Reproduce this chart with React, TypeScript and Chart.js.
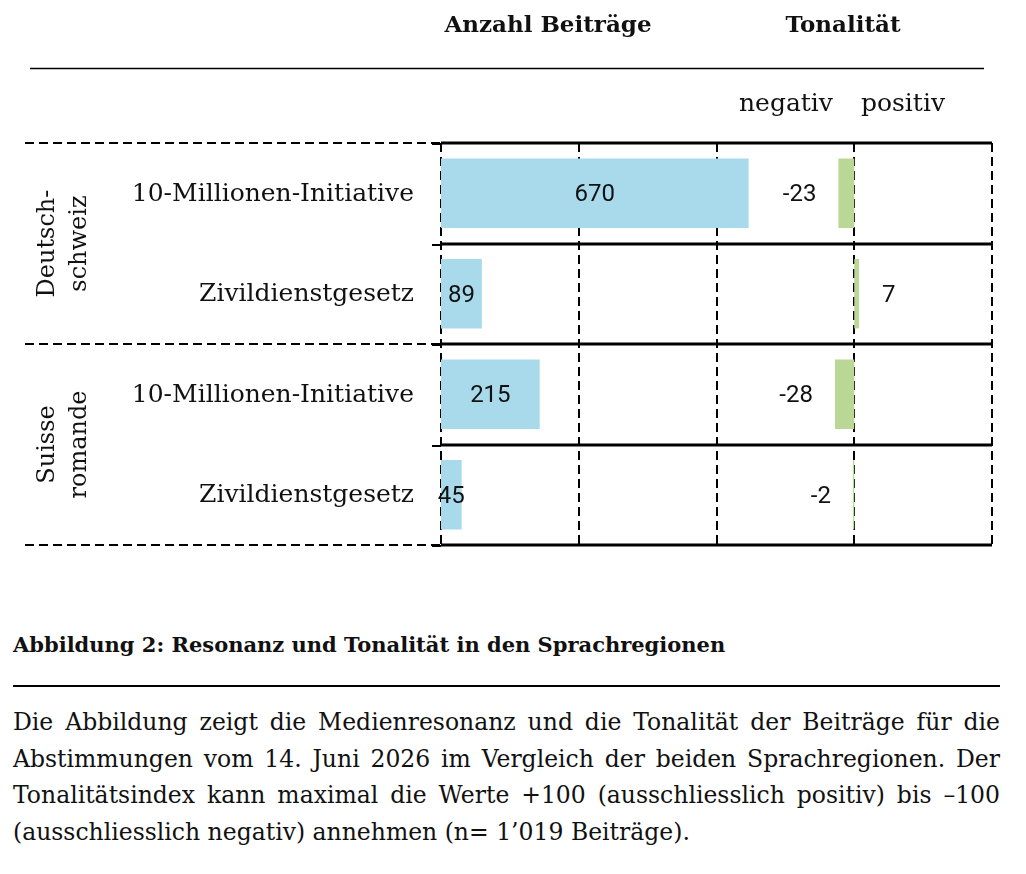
import React, { useEffect, useRef } from 'react';
import { Chart, registerables } from 'chart.js';

Chart.register(...registerables);

const categories = ['10-Millionen-Initiative', 'Zivildienstgesetz', '10-Millionen-Initiative', 'Zivildienstgesetz'];
const regionLabels = [['Deutsch-', 'schweiz'], ['Suisse', 'romande']];
const countValues = [670, 89, 215, 45];
const toneValues = [-23, 7, -28, -2];
const countTicks = [0, 300, 600, 900, 1200];
const headerLabels = ['Anzahl Beiträge', 'Tonalität'];
const toneSideLabels = ['negativ', 'positiv'];
const captionTitle = 'Abbildung 2: Resonanz und Tonalität in den Sprachregionen';
const captionLines = [
  'Die Abbildung zeigt die Medienresonanz und die Tonalität der Beiträge für die',
  'Abstimmungen vom 14. Juni 2026 im Vergleich der beiden Sprachregionen. Der',
  'Tonalitätsindex kann maximal die Werte +100 (ausschliesslich positiv) bis –100',
  '(ausschliesslich negativ) annehmen (n= 1’019 Beiträge).',
];

const SLAB = '"DejaVu Serif", "Liberation Serif", serif';
const SANS = 'Roboto, "Liberation Sans", sans-serif';

const decorPlugin = {
  id: 'decor',
  beforeDatasetsDraw(chart: any) {
    const { ctx, chartArea: a, scales } = chart;
    const x = scales.x;
    const y = scales.y;
    const n = categories.length;
    const step = (y.getPixelForValue(1) - y.getPixelForValue(0));
    const bounds: number[] = [];
    for (let i = 0; i <= n; i++) bounds.push(y.getPixelForValue(0) - step / 2 + i * step);
    ctx.save();
    ctx.strokeStyle = '#000';
    ctx.lineWidth = 2;
    ctx.setLineDash([9, 5]);
    countTicks.forEach((t) => {
      const px = Math.round(x.getPixelForValue(t));
      ctx.beginPath();
      ctx.moveTo(px, a.top);
      ctx.lineTo(px, a.bottom + 4);
      ctx.stroke();
    });
    [0, 2, 4].forEach((i) => {
      const py = Math.round(bounds[i]);
      ctx.beginPath();
      ctx.moveTo(25, py);
      ctx.lineTo(a.left, py);
      ctx.stroke();
    });
    ctx.setLineDash([]);
    ctx.lineWidth = 3;
    bounds.forEach((b) => {
      const py = Math.round(b);
      ctx.beginPath();
      ctx.moveTo(a.left, py);
      ctx.lineTo(a.right, py);
      ctx.stroke();
    });
    ctx.lineWidth = 2;
    bounds.forEach((b) => {
      const py = Math.round(b) + 1;
      ctx.beginPath();
      ctx.moveTo(a.left - 9, py);
      ctx.lineTo(a.left, py);
      ctx.stroke();
    });
    ctx.restore();
  },
  afterDatasetsDraw(chart: any) {
    const { ctx, scales } = chart;
    const x = scales.x;
    const x2 = scales.x2;
    const y = scales.y;
    ctx.save();
    ctx.fillStyle = '#111';
    ctx.font = `bold 23px ${SLAB}`;
    ctx.textAlign = 'center';
    ctx.textBaseline = 'middle';
    ctx.fillText(headerLabels[0], 548, 26);
    ctx.fillText(headerLabels[1], 843, 26);
    ctx.strokeStyle = '#000';
    ctx.lineWidth = 1.5;
    ctx.beginPath();
    ctx.moveTo(30, 68.5);
    ctx.lineTo(984, 68.5);
    ctx.stroke();
    ctx.font = `25px ${SLAB}`;
    ctx.fillText(toneSideLabels[0], 786, 104);
    ctx.fillText(toneSideLabels[1], 903, 104);
    ctx.textAlign = 'right';
    categories.forEach((c, i) => {
      ctx.fillText(c, 414, y.getPixelForValue(i) + 1);
    });
    ctx.font = `24px ${SLAB}`;
    regionLabels.forEach((lines, g) => {
      const cy = (y.getPixelForValue(g * 2) + y.getPixelForValue(g * 2 + 1)) / 2;
      ctx.save();
      ctx.translate(64, cy);
      ctx.rotate(-Math.PI / 2);
      ctx.textAlign = 'center';
      ctx.fillText(lines[0], 0, -16);
      ctx.fillText(lines[1], 0, 16);
      ctx.restore();
    });
    ctx.font = `24px ${SANS}`;
    ctx.textAlign = 'center';
    countValues.forEach((v, i) => {
      const cx = (x.getPixelForValue(0) + x.getPixelForValue(v)) / 2;
      ctx.fillText(String(v), cx, y.getPixelForValue(i) + 2);
    });
    toneValues.forEach((v, i) => {
      const end = x2.getPixelForValue(v);
      if (v < 0) {
        ctx.textAlign = 'right';
        ctx.fillText(String(v), end - 22, y.getPixelForValue(i) + 2);
      } else {
        ctx.textAlign = 'left';
        ctx.fillText(String(v), end + 23, y.getPixelForValue(i) + 2);
      }
    });
    ctx.restore();
  },
};

export default function App() {
  const ref = useRef<HTMLCanvasElement | null>(null);
  useEffect(() => {
    if (!ref.current) return;
    const chart = new Chart(ref.current, {
      type: 'bar',
      data: {
        labels: categories,
        datasets: [
          {
            label: 'Anzahl Beiträge',
            data: countValues,
            xAxisID: 'x',
            backgroundColor: '#A8DAEC',
            grouped: false,
            categoryPercentage: 1,
            barPercentage: 0.69,
          } as any,
          {
            label: 'Tonalität',
            data: toneValues,
            xAxisID: 'x2',
            backgroundColor: '#BBD795',
            grouped: false,
            categoryPercentage: 1,
            barPercentage: 0.69,
          } as any,
        ],
      },
      options: {
        indexAxis: 'y',
        responsive: false,
        animation: false,
        layout: { padding: { left: 441, right: 34, top: 143, bottom: 35 } },
        plugins: { legend: { display: false }, tooltip: { enabled: false } },
        scales: {
          x: { type: 'linear', min: 0, max: 1200, display: false },
          x2: { type: 'linear', min: -600, max: 200, display: false },
          y: { type: 'category', display: false },
        },
      },
      plugins: [decorPlugin],
    });
    return () => chart.destroy();
  }, []);

  return (
    <div style={{ position: 'absolute', left: 0, top: 0, width: 1026, height: 874, background: '#fff', color: '#111' }}>
      <canvas ref={ref} width={1026} height={580} style={{ display: 'block' }} />
      <div style={{ position: 'absolute', left: 13, top: 630, fontFamily: SLAB, fontWeight: 'bold', fontSize: 21, lineHeight: '30px', whiteSpace: 'nowrap' }}>
        {captionTitle}
      </div>
      <div style={{ position: 'absolute', left: 13, top: 685, width: 987, height: 2, background: '#000' }} />
      <div style={{ position: 'absolute', left: 13, top: 704, width: 987, fontFamily: SLAB, fontSize: 23.5, lineHeight: '36.5px' }}>
        {captionLines.map((l, i) => (
          <div
            key={i}
            style={{
              textAlign: i < captionLines.length - 1 ? 'justify' : 'left',
              textAlignLast: i < captionLines.length - 1 ? 'justify' : 'left',
              whiteSpace: 'nowrap',
            } as any}
          >
            {l}
          </div>
        ))}
      </div>
    </div>
  );
}
